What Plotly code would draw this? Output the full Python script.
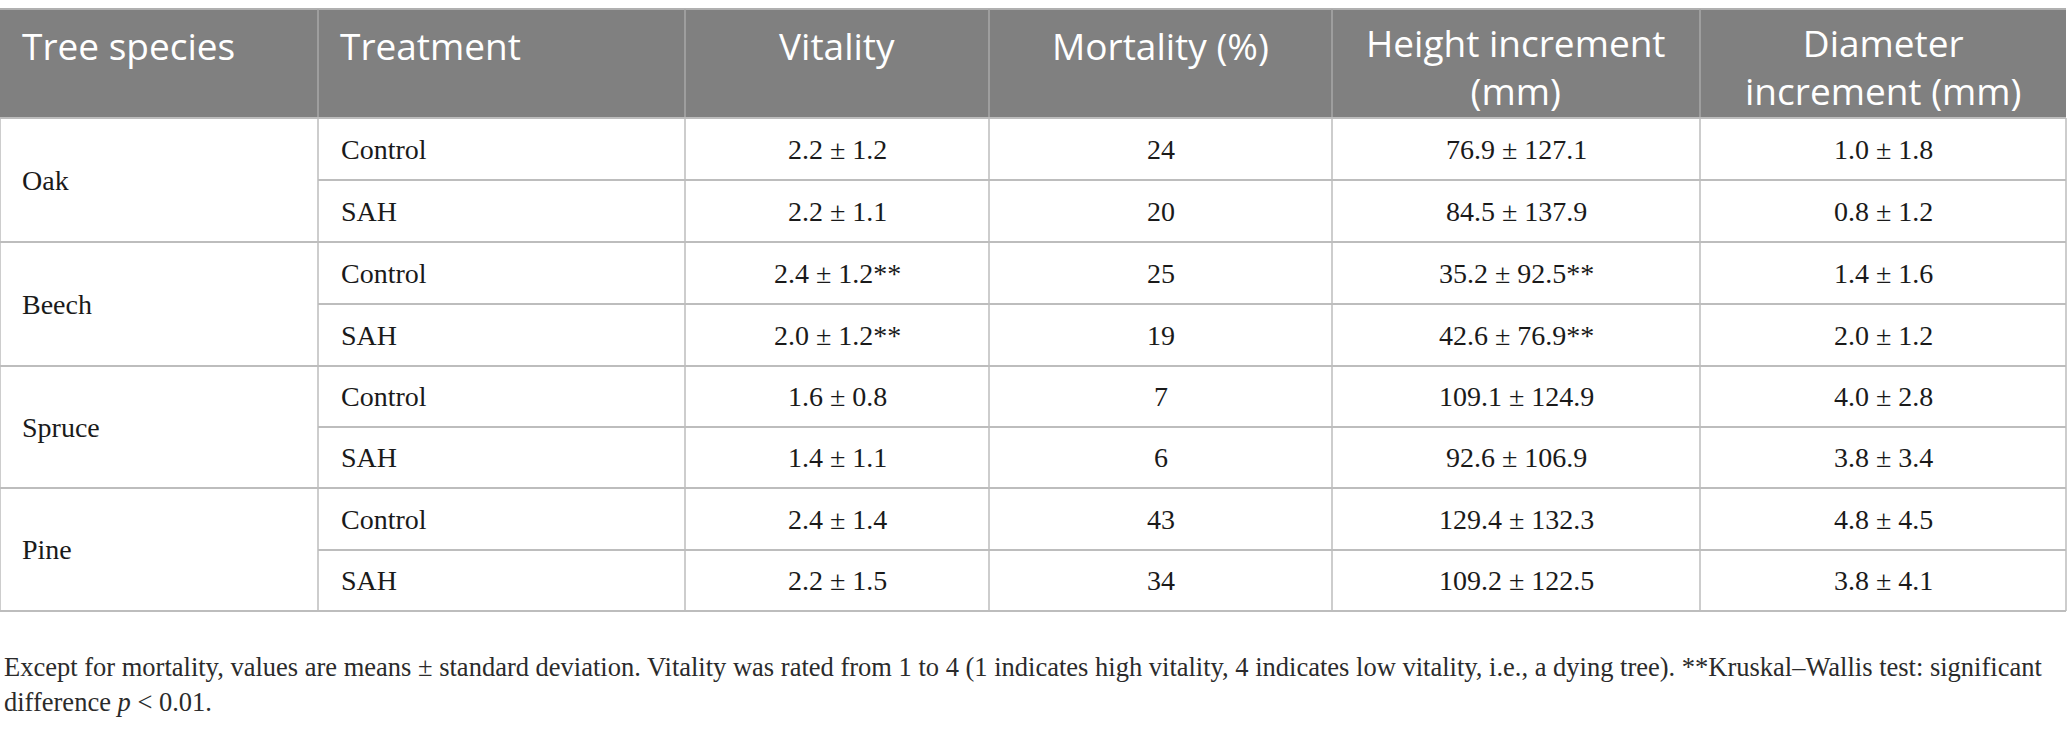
import plotly.graph_objects as go

# ---------------- data ----------------
species = ["Oak", "Beech", "Spruce", "Pine"]
treatments = ["Control", "SAH", "Control", "SAH", "Control", "SAH", "Control", "SAH"]
vitality_mean = [2.2, 2.2, 2.4, 2.0, 1.6, 1.4, 2.4, 2.2]
vitality_sd = [1.2, 1.1, 1.2, 1.2, 0.8, 1.1, 1.4, 1.5]
vitality_sig = ["", "", "**", "**", "", "", "", ""]
mortality = [24, 20, 25, 19, 7, 6, 43, 34]
height_mean = [76.9, 84.5, 35.2, 42.6, 109.1, 92.6, 129.4, 109.2]
height_sd = [127.1, 137.9, 92.5, 76.9, 124.9, 106.9, 132.3, 122.5]
height_sig = ["", "", "**", "**", "", "", "", ""]
diameter_mean = [1.0, 0.8, 1.4, 2.0, 4.0, 3.8, 4.8, 3.8]
diameter_sd = [1.8, 1.2, 1.6, 1.2, 2.8, 3.4, 4.5, 4.1]
headers = ["Tree species", "Treatment", "Vitality", "Mortality (%)",
           "Height increment<br>(mm)", "Diameter<br>increment (mm)"]
caption_lines = [
    "Except for mortality, values are means ± standard deviation. Vitality was rated from 1 to 4 "
    "(1 indicates high vitality, 4 indicates low vitality, i.e., a dying tree). **Kruskal–Wallis test: significant",
    "difference <i>p</i> < 0.01.",
]

# ---------------- layout constants ----------------
W, H = 2068, 730
col_edges = [0, 318, 685, 989, 1332, 1700, 2066]
header_top, header_bot = 9, 118
row_edges = [118, 180, 242, 304, 366, 427, 488, 550, 611]
HEADER_BG = "#808080"
GRID = "#bdbdbd"
BODY_FONT = "Liberation Serif"
HEAD_FONT = "Open Sans"
TEXT_COLOR = "#1a1a1a"


def fmt(m, s, sig=""):
    return f"{m:.1f} ± {s:.1f}{sig}"


columns = [
    [fmt(m, s, g) for m, s, g in zip(vitality_mean, vitality_sd, vitality_sig)],
    [str(v) for v in mortality],
    [fmt(m, s, g) for m, s, g in zip(height_mean, height_sd, height_sig)],
    [fmt(m, s) for m, s in zip(diameter_mean, diameter_sd)],
]

shapes = []
annotations = []

# header background
shapes.append(dict(type="rect", xref="x", yref="y", x0=col_edges[0], x1=col_edges[-1],
                   y0=header_top, y1=header_bot, fillcolor=HEADER_BG, line=dict(width=0), layer="below"))
# header top line
shapes.append(dict(type="line", xref="x", yref="y", x0=col_edges[0], x1=col_edges[-1],
                   y0=header_top, y1=header_top, line=dict(color="#b0b0b0", width=2)))
# header vertical separators
for xe in col_edges[1:-1]:
    shapes.append(dict(type="line", xref="x", yref="y", x0=xe, x1=xe, y0=header_top, y1=header_bot,
                       line=dict(color="#a9a9a9", width=1.5)))

# body vertical lines
for xe in col_edges:
    shapes.append(dict(type="line", xref="x", yref="y", x0=xe, x1=xe, y0=header_bot, y1=row_edges[-1],
                       line=dict(color=GRID, width=1.5)))
# body horizontal lines
for i, ye in enumerate(row_edges):
    x0 = col_edges[0] if i % 2 == 0 else col_edges[1]
    shapes.append(dict(type="line", xref="x", yref="y", x0=x0, x1=col_edges[-1], y0=ye, y1=ye,
                       line=dict(color=GRID, width=2)))

# header text
for c, label in enumerate(headers):
    n_lines = label.count("<br>") + 1
    y = 45 if n_lines == 1 else 66
    if c < 2:
        x, xanchor = col_edges[c] + 20, "left"
    else:
        x, xanchor = (col_edges[c] + col_edges[c + 1]) / 2, "center"
    annotations.append(dict(x=x, y=y, xref="x", yref="y", text=label,
                            showarrow=False, xanchor=xanchor, yanchor="middle", align="center",
                            font=dict(family=HEAD_FONT, size=37, color="white")))

# species column (merged cells)
for k, sp in enumerate(species):
    yc = (row_edges[2 * k] + row_edges[2 * k + 2]) / 2
    annotations.append(dict(x=col_edges[0] + 20, y=yc, xref="x", yref="y", text=sp, showarrow=False,
                            xanchor="left", yanchor="middle",
                            font=dict(family=BODY_FONT, size=28, color=TEXT_COLOR)))

# treatment column
for r, t in enumerate(treatments):
    yc = (row_edges[r] + row_edges[r + 1]) / 2
    annotations.append(dict(x=col_edges[1] + 21, y=yc, xref="x", yref="y", text=t, showarrow=False,
                            xanchor="left", yanchor="middle",
                            font=dict(family=BODY_FONT, size=28, color=TEXT_COLOR)))

# numeric columns
for c, vals in enumerate(columns):
    xc = (col_edges[c + 2] + col_edges[c + 3]) / 2
    for r, v in enumerate(vals):
        yc = (row_edges[r] + row_edges[r + 1]) / 2
        annotations.append(dict(x=xc, y=yc, xref="x", yref="y", text=v, showarrow=False,
                                xanchor="center", yanchor="middle",
                                font=dict(family=BODY_FONT, size=28, color=TEXT_COLOR)))

# caption
cap_y = [667, 702]
for li, txt in enumerate(caption_lines):
    annotations.append(dict(x=2, y=cap_y[li], xref="x", yref="y", text=txt, showarrow=False,
                            xanchor="left", yanchor="middle",
                            font=dict(family=BODY_FONT, size=26.5, color="#2b2b2b")))

fig = go.Figure()
fig.update_layout(
    width=W, height=H,
    margin=dict(l=0, r=0, t=0, b=0),
    paper_bgcolor="white", plot_bgcolor="white",
    xaxis=dict(range=[0, W], visible=False, fixedrange=True),
    yaxis=dict(range=[H, 0], visible=False, fixedrange=True),
    shapes=shapes, annotations=annotations,
    showlegend=False,
)
fig.write_html("out.html", config={"displayModeBar": False},
               post_script="document.body.style.margin='0px';document.body.style.overflow='hidden';")
